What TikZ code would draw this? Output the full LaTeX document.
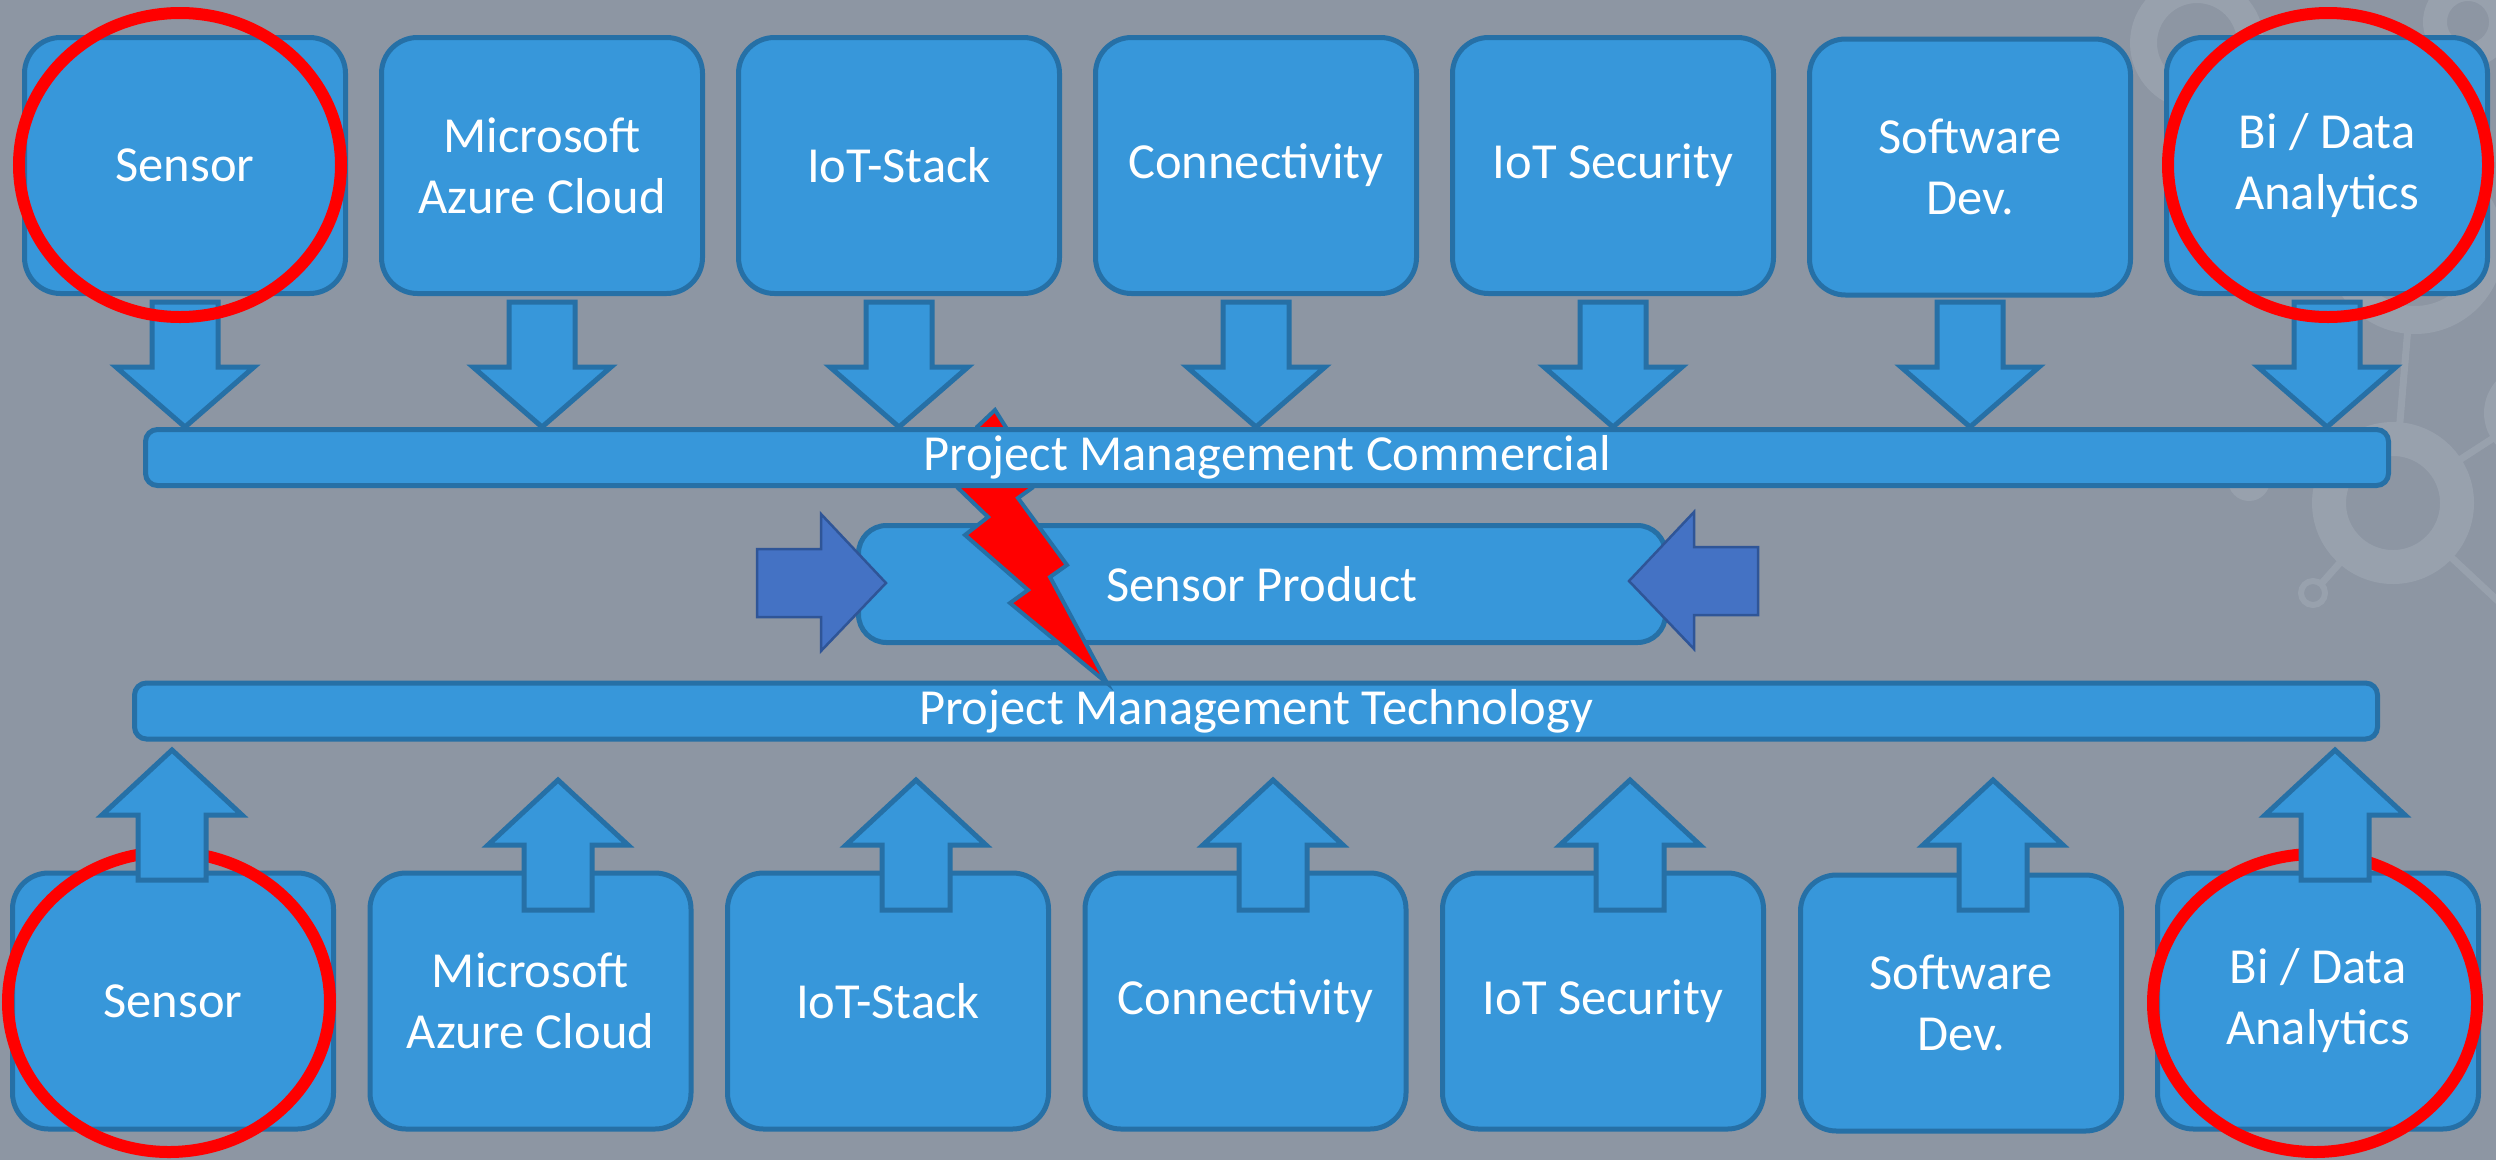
\documentclass[tikz,border=0pt]{standalone}
\usepackage{fontspec}
\setmainfont{Carlito}
\usetikzlibrary{calc}
\pgfdeclarelayer{back}
\pgfdeclarelayer{front}
\pgfsetlayers{back,main,front}
\definecolor{bg}{RGB}{141,150,163}
\definecolor{boxfill}{RGB}{55,151,218}
\definecolor{boxline}{RGB}{38,112,166}
\definecolor{sidefill}{RGB}{68,114,196}
\definecolor{sideline}{RGB}{47,85,151}
\definecolor{decor}{RGB}{152,161,173}
\definecolor{alarm}{RGB}{255,0,0}
\newcommand\blkdown[1]{\draw[blockarrow] (#1) -- ++(69,-60) -- ++(-36,0) -- ++(0,-65) -- ++(-66,0) -- ++(0,65) -- ++(-36,0) -- cycle;}
\newcommand\blkup[1]{\draw[blockarrow] (#1) -- ++(70,65) -- ++(-36,0) -- ++(0,65) -- ++(-68,0) -- ++(0,-65) -- ++(-36,0) -- cycle;}
\begin{document}
\begin{tikzpicture}[x=1pt,y=-1pt,
  labelfont/.style={text=white,font=\fontsize{50.5}{61}\selectfont},
  box/.style={labelfont,draw=boxline,fill=boxfill,line width=5pt,rounded corners=36pt,
    minimum width=321pt,minimum height=256pt,align=center,inner sep=0pt},
  bar/.style={labelfont,draw=boxline,fill=boxfill,line width=5pt,rounded corners=12pt,
    minimum width=2243pt,minimum height=56pt,inner sep=0pt},
  prodbox/.style={labelfont,draw=boxline,fill=boxfill,line width=5pt,rounded corners=28pt,
    minimum width=807pt,minimum height=117pt,inner sep=0pt},
  blockarrow/.style={draw=boxline,fill=boxfill,line width=5pt,line join=miter},
  sidearrow/.style={draw=sideline,fill=sidefill,line width=2.5pt,line join=miter},
  bolt/.style={draw=boxline,fill=alarm,line width=4pt,line join=miter},
  alarmring/.style={draw=alarm,line width=12pt},
  decorline/.style={draw=decor,line width=7pt},
  decorring/.style={draw=decor,fill=bg}]
\useasboundingbox (0,0) rectangle (2496,1160);
\clip (0,0) rectangle (2496,1160);
% ---------- background ----------
\begin{pgfonlayer}{back}
\fill[bg] (0,0) rectangle (2496,1160);
\coordinate (dA) at (2393,503);
\coordinate (dB) at (2313,593);
\coordinate (dC) at (2415,245);
\coordinate (dD) at (2532,413);
\coordinate (dE) at (2249,480);
\coordinate (dF) at (2197,43);
\coordinate (dG) at (2468,22);
\draw[decorline] (dA) -- (dB);
\draw[decorline] (dA) -- (dC);
\draw[decorline] (dA) -- (dD);
\draw[decorline] (dA) -- ++(150,140);
\draw[decorring,line width=34pt] (dA) circle [radius=64];
\draw[decorring,line width=6pt] (dB) circle [radius=12];
\draw[decorring,line width=28pt] (dC) circle [radius=75];
\draw[decorring,line width=24pt] (dD) circle [radius=36];
\fill[decor] (dE) circle [radius=21];
\draw[decorring,line width=27pt] (dF) circle [radius=53.5];
\draw[decorring,line width=24pt] (dG) circle [radius=33];
\end{pgfonlayer}
% ---------- top row ----------
\node[box] (t1) at (185,165.5) {Sensor};
\node[box] (t2) at (542,165.5) {Microsoft\\Azure Cloud};
\node[box] (t3) at (899,165.5) {IoT-Stack};
\node[box] (t4) at (1256,165.5) {Connectivity};
\node[box] (t5) at (1613,165.5) {IoT Security};
\node[box] (t6) at (1970,167) {Software\\Dev.};
\node[box] (t7) at (2327,165.5) {Bi / Data\\Analytics};
\begin{pgfonlayer}{front}
\node[bar] (cb) at (1267,457.5) {Project Management Commercial};
\draw[alarmring] (180,165) ellipse [x radius=161, y radius=152];
\draw[alarmring] (2328,165) ellipse [x radius=160, y radius=152];
\end{pgfonlayer}
% ---------- middle ----------
\node[bar] (tb) at (1256,711) {Project Management Technology};
\node[prodbox] (sp) at (1262,584) {Sensor Product};
\coordinate (la) at (886,583);
\coordinate (ra) at (1629,581);
\draw[sidearrow] (la) -- ++(-65,-69) -- ++(0,35) -- ++(-64,0) -- ++(0,68) -- ++(64,0) -- ++(0,34) -- cycle;
\draw[sidearrow] (ra) -- ++(65,-69) -- ++(0,35) -- ++(64,0) -- ++(0,68) -- ++(-64,0) -- ++(0,34) -- cycle;
\foreach \k in {1,...,7}{\blkdown{t\k |- cb.north}}
\draw[bolt] (995,410) -- (1007,429) -- (1032,488) -- (1018,498) -- (1067,565) -- (1050,577)
  -- (1107,683) -- (1010,603) -- (1028,590) -- (965,535) -- (988,517) -- (958,488)
  -- (977,427) -- cycle;
% ---------- bottom row ----------
\node[box] (b1) at (173,1001) {Sensor};
\node[box] (b2) at (530.5,1001) {Microsoft\\Azure Cloud};
\node[box] (b3) at (888,1001) {IoT-Stack};
\node[box] (b4) at (1245.5,1001) {Connectivity};
\node[box] (b5) at (1603,1001) {IoT Security};
\node[box] (b6) at (1961,1003) {Software\\Dev.};
\node[box] (b7) at (2318,1001) {Bi / Data\\Analytics};
\draw[alarmring] (169,1002) ellipse [x radius=161, y radius=150];
\draw[alarmring] (2315,1003) ellipse [x radius=162, y radius=149];
\coordinate (u1) at (172,750);
\coordinate (u2) at (558,780);
\coordinate (u3) at (916,780);
\coordinate (u4) at (1273,780);
\coordinate (u5) at (1630,780);
\coordinate (u6) at (1993,780);
\coordinate (u7) at (2335,750);
\foreach \k in {1,...,7}{\blkup{u\k}}
\end{tikzpicture}
\end{document}
